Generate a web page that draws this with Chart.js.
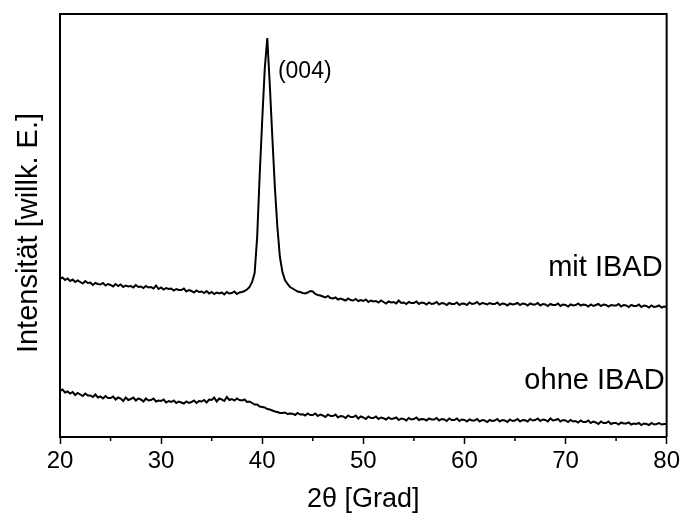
<!DOCTYPE html>
<html lang="de">
<head>
<meta charset="utf-8">
<title>XRD – mit / ohne IBAD</title>
<script src="https://cdn.jsdelivr.net/npm/chart.js@4.4.1/dist/chart.umd.min.js"></script>
<style>
  html, body { margin: 0; padding: 0; background: #fff; }
</style>
</head>
<body>
<canvas id="chart-xrd" width="683" height="521"></canvas>
<script>
const FONT = '"Liberation Sans", Arial, Helvetica, sans-serif';

// 2θ grid of the scan: 20° ... 80° in 0.25° steps
const startAngle = 20;
const angleStep = 0.25;

// Intensity (arb. units), one row per degree
const mitIBAD = [
  158, 159.5, 157, 158.5,
  156, 157.5, 155, 156.5,
  155, 153.5, 156, 154,
  154.5, 152, 154, 153,
  152.5, 154, 151.5, 153,
  152, 150.5, 153, 151,
  152.5, 150, 151.5, 150.5,
  151, 149.5, 152, 150,
  150.5, 149, 151, 149.5,
  150, 148.5, 151.5, 148,
  149.5, 147.5, 149, 148,
  148.5, 146.5, 148, 147,
  147, 148.5, 145.5, 147,
  146, 144.5, 146.5, 145,
  145.5, 144, 146, 143.5,
  145, 143, 144.5, 143.5,
  144.5, 142.5, 145, 143.5,
  144, 145.5, 143, 144.5,
  145, 146, 147.5, 150,
  155, 164, 200, 262,
  317, 368, 399, 352,
  300, 250, 210, 180,
  165, 157, 153, 150,
  148.5, 147, 145.5, 145,
  144, 143.5, 144.5, 146,
  145.5, 143, 142, 141.5,
  140.5, 139.5, 141, 139,
  138.5, 139.5, 137.5, 138.5,
  137.5, 136.5, 138.5, 137,
  136.5, 138, 136, 137,
  136, 137.5, 135, 136.5,
  135.5, 136, 134.5, 136.5,
  135, 133.5, 135.5, 134.5,
  135, 133.5, 136.5, 134,
  134.5, 133, 135, 134,
  134, 135.5, 133, 134.5,
  134, 132.5, 134.5, 133,
  133.5, 135, 132.5, 134,
  133.5, 132, 134, 133,
  133, 134.5, 132, 133.5,
  133.3, 132, 134.5, 133,
  133.5, 135, 132.5, 134,
  133.5, 132.5, 134, 133,
  133, 134.5, 132, 133.5,
  133, 131.5, 133.5, 132.5,
  133, 134, 132, 133.5,
  133, 131.5, 133.5, 132.5,
  132.5, 134, 131.5, 133,
  132.5, 131, 133, 132,
  132, 133.5, 131, 132.5,
  132, 130.5, 132.5, 131.5,
  132, 133.5, 131.5, 132.5,
  132, 130.5, 132.5, 131,
  132, 133, 131, 132.5,
  132, 130.5, 132, 131.5,
  131.5, 133, 130.5, 132,
  131.5, 130, 132, 131,
  131, 132.5, 130, 131.5,
  131, 129.5, 131.5, 130,
  130.5, 131.5, 129.5, 130.5,
  130
];

const ohneIBAD = [
  46, 47.5, 44.5, 45.5,
  43.5, 45, 42, 44,
  42.5, 41, 43.5, 41.5,
  41.5, 40, 42.5, 39.5,
  40.5, 38.5, 41, 39,
  39, 40.5, 37.5, 39.5,
  38.5, 36, 39.5, 37,
  38, 39.5, 36.5, 38.5,
  37.5, 35.5, 38.5, 36.5,
  37, 38.5, 35.5, 36.5,
  36, 37.5, 34.5, 36,
  35, 36.5, 34, 35.5,
  34.5, 33.5, 35.5, 34,
  35, 36.5, 34, 36,
  35.5, 37, 34.5, 37.5,
  37, 39.5, 35.5, 38.5,
  37.5, 36, 40, 37,
  38, 36.5, 38.5, 37,
  36.5, 37.5, 35, 35.5,
  34, 32.5, 32.5, 30.5,
  30, 29.5, 28, 27.5,
  26.5, 25.5, 25, 24,
  24, 24.5, 23, 23.5,
  23.3, 22, 24, 22.5,
  22.8, 21.5, 23.5, 22,
  22, 23.5, 21, 22.5,
  21.5, 20, 22.5, 21,
  21, 22.5, 19.5, 21,
  20.5, 19, 21.5, 20,
  20, 21.5, 18.5, 20.5,
  19.5, 18, 20.5, 19,
  19, 20.5, 18, 19.5,
  18.7, 17.5, 19.5, 18,
  18.5, 19.5, 17, 18.5,
  18, 16.5, 19, 17.5,
  18, 19.5, 17, 18,
  17.8, 16.5, 18.5, 17.5,
  17.5, 19, 16.5, 18,
  17.5, 16, 18.5, 17,
  17, 18.5, 16, 17.5,
  17, 15.5, 17.5, 16.5,
  16.5, 18, 15.5, 17,
  16.5, 15, 17, 16,
  16.5, 18, 15.5, 17,
  16.5, 15, 17.5, 16,
  16.5, 18, 15.5, 17,
  16.7, 15.5, 18, 16.5,
  17, 18.5, 16, 17.5,
  17, 15.5, 18.5, 16.5,
  17, 18, 15.5, 17,
  16.5, 15, 17, 15.5,
  16, 14.5, 16.5, 15,
  15, 16.5, 14, 15.5,
  14.5, 13, 15.5, 14,
  14, 15.5, 13, 14,
  14, 12.5, 14.5, 13.5,
  13.5, 14.5, 12.5, 13.5,
  13, 14, 12, 13.5,
  13, 12, 14, 12.5,
  13, 14, 12.5, 13,
  13
];

const majorTicks = [20, 30, 40, 50, 60, 70, 80];
const minorTicks = [25, 35, 45, 55, 65, 75];

const yTitle = 'Intensität [willk. E.]';

// text placed next to the curves (data coordinates)
const curveLabels = [
  { text: '(004)', x: 41.55, y: 365, align: 'left', size: 23 },
  { text: 'mit IBAD', x: 79.6, y: 169, align: 'right', size: 29 },
  { text: 'ohne IBAD', x: 79.8, y: 56, align: 'right', size: 29 }
];

const toPoints = arr => arr.map((v, i) => ({ x: startAngle + i * angleStep, y: v }));

// closes the frame, adds minor ticks, the y title and the curve labels
const framePlugin = {
  id: 'frame',
  afterDraw(chart) {
    const { ctx, chartArea: a, scales: { x, y } } = chart;
    ctx.save();
    ctx.strokeStyle = '#000';
    ctx.lineWidth = 2;
    ctx.beginPath();
    ctx.moveTo(a.left, a.top);
    ctx.lineTo(a.right, a.top);
    ctx.lineTo(a.right, a.bottom);
    ctx.stroke();

    ctx.lineWidth = 1.5;
    minorTicks.forEach(v => {
      const px = x.getPixelForValue(v);
      ctx.beginPath();
      ctx.moveTo(px, a.bottom);
      ctx.lineTo(px, a.bottom + 4);
      ctx.stroke();
    });

    ctx.fillStyle = '#000';
    ctx.textBaseline = 'middle';
    curveLabels.forEach(l => {
      ctx.font = `${l.size}px ${FONT}`;
      ctx.textAlign = l.align;
      ctx.fillText(l.text, x.getPixelForValue(l.x), y.getPixelForValue(l.y));
    });

    // y axis title, a little below the middle of the axis like the original
    ctx.translate(29, 233);
    ctx.rotate(-Math.PI / 2);
    ctx.textAlign = 'center';
    ctx.font = `29px ${FONT}`;
    ctx.fillText(yTitle, 0, 0);
    ctx.restore();
  }
};

const lineStyle = { borderColor: '#000', borderWidth: 2, pointRadius: 0, tension: 0, fill: false };

new Chart(document.getElementById('chart-xrd'), {
  type: 'line',
  data: {
    datasets: [
      { label: 'mit IBAD', data: toPoints(mitIBAD), ...lineStyle },
      { label: 'ohne IBAD', data: toPoints(ohneIBAD), ...lineStyle }
    ]
  },
  options: {
    responsive: false,
    animation: false,
    layout: { padding: { top: 14, right: 16, left: 0, bottom: 0 } },
    plugins: { legend: { display: false }, tooltip: { enabled: false } },
    scales: {
      x: {
        type: 'linear', min: 20, max: 80,
        afterFit: s => { s.height = 84; },
        afterBuildTicks: s => { s.ticks = majorTicks.map(v => ({ value: v })); },
        grid: { drawOnChartArea: false, drawTicks: true, tickLength: 7, tickWidth: 1.5, tickColor: '#000' },
        border: { display: true, color: '#000', width: 2 },
        ticks: { color: '#000', font: { family: FONT, size: 24 }, padding: 3, maxRotation: 0 },
        title: { display: true, text: '2θ [Grad]', color: '#000', font: { family: FONT, size: 27 }, padding: { top: 0, bottom: 5 } }
      },
      y: {
        min: 0, max: 423,
        afterFit: s => { s.width = 60; },
        grid: { display: false },
        border: { display: true, color: '#000', width: 2 },
        ticks: { display: false }
      }
    }
  },
  plugins: [framePlugin]
});
</script>
</body>
</html>
